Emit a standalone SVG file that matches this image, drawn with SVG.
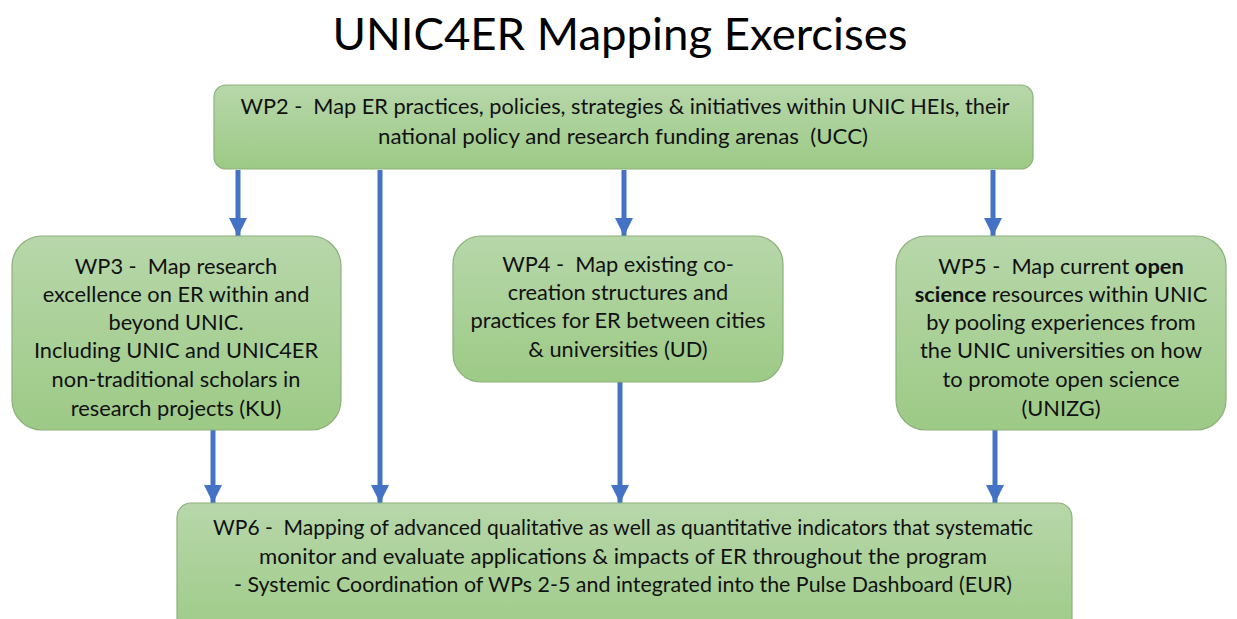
<svg xmlns="http://www.w3.org/2000/svg" width="1237" height="619" viewBox="0 0 1237 619">
<defs>
<linearGradient id="g" x1="0" y1="0" x2="0" y2="1">
<stop offset="0" stop-color="#b7d7aa"/>
<stop offset="1" stop-color="#9dca86"/>
</linearGradient>
<marker id="ah" viewBox="0 0 10 10" refX="10" refY="5" markerWidth="3.6" markerHeight="3.6" markerUnits="strokeWidth" orient="auto">
<path d="M0,0 L10,5 L0,10 z" fill="#4472c4"/>
</marker>
<style>
.box{fill:url(#g);stroke:#8db07b;stroke-width:1.2}
.t{font-family:Lato,"Open Sans",sans-serif;font-size:21.8px;fill:#111;text-anchor:middle;white-space:pre}
.w{font-size:21px}
.title{font-family:Lato,"Open Sans",sans-serif;font-size:44px;fill:#000;text-anchor:middle}
.c{stroke:#4472c4;stroke-width:5;fill:none;marker-end:url(#ah)}
</style>
</defs>
<rect width="1237" height="619" fill="#fff"/>
<text class="title" x="620" y="50" textLength="575" lengthAdjust="spacingAndGlyphs">UNIC4ER Mapping Exercises</text>
<g id="connectors">
<line class="c" x1="238" y1="170" x2="238" y2="236"/>
<line class="c" x1="380" y1="170" x2="380" y2="503"/>
<line class="c" x1="624" y1="170" x2="624" y2="236"/>
<line class="c" x1="993" y1="170" x2="993" y2="236"/>
<line class="c" x1="213" y1="430" x2="213" y2="503"/>
<line class="c" x1="620" y1="382" x2="620" y2="503"/>
<line class="c" x1="995" y1="430" x2="995" y2="503"/>
</g>
<g id="wp2">
<rect class="box" x="214" y="85" width="819" height="84" rx="12"/>
<text class="t w" x="625" y="114" textLength="769" lengthAdjust="spacingAndGlyphs">WP2 -  Map ER practices, policies, strategies &amp; initiatives within UNIC HEIs, their</text>
<text class="t w" x="623" y="144" textLength="490" lengthAdjust="spacingAndGlyphs">national policy and research funding arenas  (UCC)</text>
</g>
<g id="wp3">
<rect class="box" x="12" y="236" width="329" height="194" rx="30"/>
<text class="t" x="176" y="274">WP3 -  Map research</text>
<text class="t" x="176" y="302">excellence on ER within and</text>
<text class="t" x="176" y="330">beyond UNIC.</text>
<text class="t" x="176" y="358">Including UNIC and UNIC4ER</text>
<text class="t" x="176" y="387">non-traditional scholars in</text>
<text class="t" x="176" y="416">research projects (KU)</text>
</g>
<g id="wp4">
<rect class="box" x="453" y="236" width="330" height="146" rx="28"/>
<text class="t" x="618" y="272">WP4 -  Map existing co-</text>
<text class="t" x="618" y="300">creation structures and</text>
<text class="t" x="618" y="328">practices for ER between cities</text>
<text class="t" x="618" y="357">&amp; universities (UD)</text>
</g>
<g id="wp5">
<rect class="box" x="896" y="236" width="330" height="194" rx="30"/>
<text class="t" x="1061" y="274">WP5 -  Map current <tspan font-weight="bold">open</tspan></text>
<text class="t" x="1061" y="302"><tspan font-weight="bold">science</tspan> resources within UNIC</text>
<text class="t" x="1061" y="330">by pooling experiences from</text>
<text class="t" x="1061" y="358">the UNIC universities on how</text>
<text class="t" x="1061" y="387">to promote open science</text>
<text class="t" x="1061" y="416">(UNIZG)</text>
</g>
<g id="wp6">
<rect class="box" x="177" y="503" width="895" height="140" rx="14"/>
<text class="t w" x="623" y="535" textLength="820" lengthAdjust="spacingAndGlyphs">WP6 -  Mapping of advanced qualitative as well as quantitative indicators that systematic</text>
<text class="t w" x="623" y="564" textLength="728" lengthAdjust="spacingAndGlyphs">monitor and evaluate applications &amp; impacts of ER throughout the program</text>
<text class="t w" x="623" y="592" textLength="778" lengthAdjust="spacingAndGlyphs">- Systemic Coordination of WPs 2-5 and integrated into the Pulse Dashboard (EUR)</text>
</g>
</svg>
